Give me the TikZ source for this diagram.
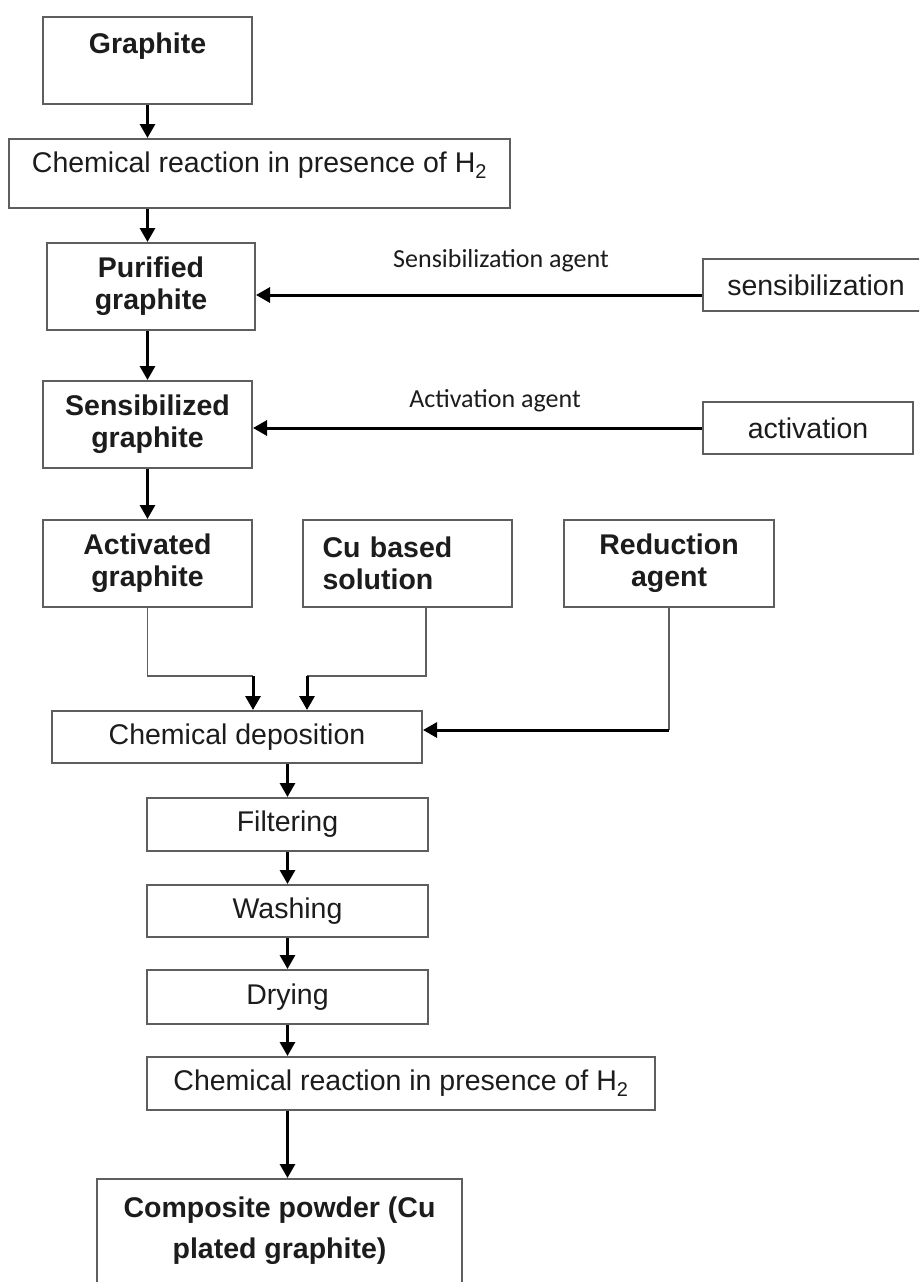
\documentclass[tikz,border=0pt]{standalone}
\usepackage{fontspec}
\setmainfont{Liberation Sans}
\newfontfamily\agentfont{Carlito}
\usetikzlibrary{arrows.meta}
\definecolor{boxgray}{HTML}{5E5E5E}
\definecolor{ink}{HTML}{1C1C1C}
\begin{document}
\begin{tikzpicture}[x=1pt,y=-1pt,
  box/.style={draw=boxgray, line width=2pt, fill=white, inner sep=0pt,
    text=ink, align=center, font=\fontsize{28.5}{32}\selectfont},
  boldbox/.style={box, font=\fontsize{28.5}{32}\selectfont\bfseries},
  boldtext/.style={inner sep=0pt, text=ink, align=center,
    font=\fontsize{28.5}{32}\selectfont\bfseries},
  flow/.style={line width=3pt, draw=black, -{Triangle[width=15pt,length=14pt]}},
  feed/.style={line width=1.5pt, draw=boxgray},
  agent/.style={inner sep=0pt, anchor=base, text=ink,
    font=\agentfont\fontsize{26}{30}\selectfont}
]
\clip (0,0) rectangle (919,1282);
\fill[white] (0,0) rectangle (919,1282);

% main column
\node[box, minimum width=209, minimum height=87] (graphite) at (147.5,60.5) {};
\node[boldtext, anchor=base] (graphitetext) at (147.5,53) {Graphite};
\node[box, minimum width=501, minimum height=69, text depth=22pt] (chem1) at (259.5,173.5)
  {Chemical reaction in presence of H\textsubscript{2}};
\node[boldbox, minimum width=208, minimum height=87] (purified) at (151,286.5)
  {Purified\\graphite};
\node[boldbox, minimum width=209, minimum height=87] (sensibilized) at (147.5,424.5)
  {Sensibilized\\graphite};
\node[boldbox, minimum width=209, minimum height=87] (activated) at (147.5,563.5)
  {Activated\\graphite};
\node[boldbox, minimum width=209, minimum height=87, text width=170, align=left] (cu) at (407.5,563.5)
  {Cu based\\solution};
\node[boldbox, minimum width=210, minimum height=87] (reduction) at (669,563.5)
  {Reduction\\agent};

% side treatments
\node[box, minimum width=226, minimum height=52] (sensib) at (816,285) {sensibilization};
\node[box, minimum width=210, minimum height=52] (activation) at (808,428) {activation};
\node[agent] (sensiblabel) at (501,267) {Sensibilization agent};
\node[agent] (activlabel) at (495,407) {Activation agent};

% processing sequence
\node[box, minimum width=370, minimum height=52] (chemdep) at (237,737) {Chemical deposition};
\node[box, minimum width=281, minimum height=53] (filtering) at (287.5,824.5) {Filtering};
\node[box, minimum width=281, minimum height=52] (washing) at (287.5,911) {Washing};
\node[box, minimum width=281, minimum height=54] (drying) at (287.5,997) {Drying};
\node[box, minimum width=508, minimum height=53] (chem2) at (401,1083.5)
  {Chemical reaction in presence of H\textsubscript{2}};
\node[box, minimum width=365, minimum height=121] (composite) at (279.5,1239.5) {};
\node[boldtext, anchor=north] (compositetext) at (279.5,1197)
  {Composite powder (Cu\\[9pt]plated graphite)};

% vertical flow
\draw[flow] (graphite.south) -- (chem1.north -| graphite.south);
\draw[flow] (chem1.south -| sensibilized) -- (purified.north -| sensibilized);
\draw[flow] (purified.south -| sensibilized) -- (sensibilized.north);
\draw[flow] (sensibilized.south) -- (activated.north);

% agents fed from the right
\draw[flow] ([yshift=-10pt]sensib.west) -- ([yshift=-10pt]sensib.west -| purified.east);
\draw[flow] (activation.west) -- (activation.west -| sensibilized.east);

% reactants joining the deposition step
\coordinate (mixa) at (activated.east |- 0,676);
\coordinate (cuout) at ([xshift=18.5pt]cu.south);
\coordinate (mixb) at (307,676);
\coordinate (redturn) at (reduction.south |- 0,730);
\draw[feed] (activated.south) |- (mixa);
\draw[flow] (mixa) -- (chemdep.north -| mixa);
\draw[feed] (cuout) |- (mixb);
\draw[flow] (mixb) -- (chemdep.north -| mixb);
\draw[feed] (reduction.south) -- (redturn);
\draw[flow] (redturn) -- (redturn -| chemdep.east);

% after deposition
\draw[flow] (chemdep.south -| filtering) -- (filtering.north);
\draw[flow] (filtering.south) -- (washing.north);
\draw[flow] (washing.south) -- (drying.north);
\draw[flow] (drying.south) -- (chem2.north -| drying);
\draw[flow] (chem2.south -| drying) -- (composite.north -| drying);
\end{tikzpicture}
\end{document}
